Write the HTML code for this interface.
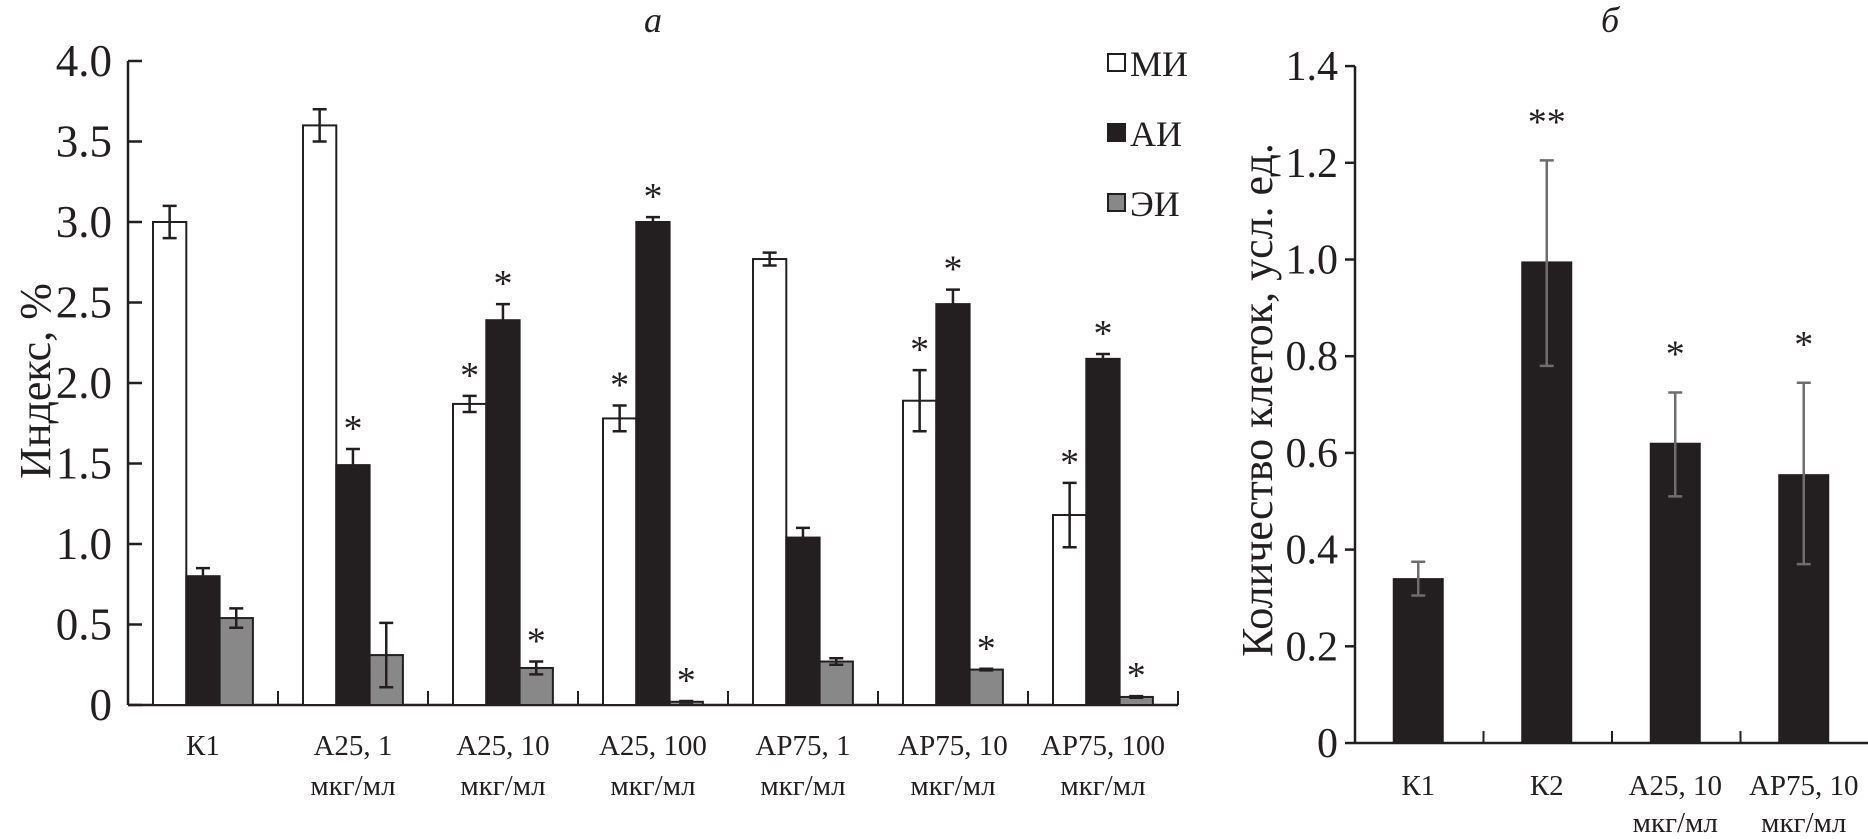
<!DOCTYPE html>
<html><head><meta charset="utf-8">
<style>
html,body{margin:0;padding:0;background:#fff;}
svg{display:block;font-family:"Liberation Serif","DejaVu Serif",serif;}
</style></head>
<body>
<svg id="chart" width="1868" height="839" viewBox="0 0 1868 839" xmlns="http://www.w3.org/2000/svg"></svg>
<script>
// Panel a data
const catsA = [["К1",""],["А25, 1","мкг/мл"],["А25, 10","мкг/мл"],["А25, 100","мкг/мл"],["АР75, 1","мкг/мл"],["АР75, 10","мкг/мл"],["АР75, 100","мкг/мл"]];
const miVals = [3.0, 3.6, 1.87, 1.78, 2.77, 1.89, 1.18];
const miErr = [0.1, 0.1, 0.05, 0.08, 0.04, 0.19, 0.2];
const miStar = [0,0,1,1,0,1,1];
const aiVals = [0.8, 1.49, 2.39, 3.0, 1.04, 2.49, 2.15];
const aiErr = [0.05, 0.1, 0.1, 0.03, 0.06, 0.09, 0.03];
const aiStar = [0,1,1,1,0,1,1];
const eiVals = [0.54, 0.31, 0.23, 0.02, 0.27, 0.22, 0.05];
const eiErr = [0.06, 0.2, 0.04, 0.005, 0.02, 0.005, 0.005];
const eiStar = [0,0,1,1,0,1,1];
const ticksA = ["0","0.5","1.0","1.5","2.0","2.5","3.0","3.5","4.0"];
// Panel b data
const catsB = [["К1",""],["К2",""],["А25, 10","мкг/мл"],["АР75, 10","мкг/мл"]];
const cellVals = [0.34, 0.995, 0.62, 0.555];
const cellLo = [0.305, 0.78, 0.51, 0.37];
const cellHi = [0.375, 1.205, 0.725, 0.745];
const cellStar = ["", "**", "*", "*"];
const ticksB = ["0","0.2","0.4","0.6","0.8","1.0","1.2","1.4"];

const svg = document.getElementById('chart');
const NS = "http://www.w3.org/2000/svg";
function mk(tag, attrs, parent){const e=document.createElementNS(NS,tag);for(const k in attrs)e.setAttribute(k,attrs[k]);(parent||svg).appendChild(e);return e;}
function txt(s, attrs, parent){const e=mk('text',attrs,parent);e.textContent=s;return e;}
const INK="#231f20";

// ---------- Panel a ----------
const gA = mk('g',{});


const ax0=128, ay0=705, aUnit=161, groupW=150, barW=33.3, gStart=153;
const yA = v => ay0 - v*aUnit;
const xA = (i,s) => gStart + i*groupW + s*barW;
let t = txt('а',{x:653,y:32,'font-size':36,'font-style':'italic','text-anchor':'middle',fill:INK},gA);
 
let l = mk('line',{x1:ax0,y1:yA(4),x2:ax0,y2:ay0,stroke:INK,'stroke-width':2.5},gA);
 
l = mk('line',{x1:ax0,y1:ay0,x2:ax0+catsA.length*groupW,y2:ay0,stroke:INK,'stroke-width':2.5},gA);
 
ticksA.forEach((s,i)=>{
  const y=yA(parseFloat(s));
  const tk=mk('line',{x1:ax0,y1:y,x2:ax0+14,y2:y,stroke:INK,'stroke-width':2.5},gA);
   
  const tl=txt(s,{x:112,y:y+15,'font-size':45,'text-anchor':'end',fill:INK},gA);
   
});
for(let k=1;k<=catsA.length;k++){
  const tk=mk('line',{x1:ax0+k*groupW,y1:ay0,x2:ax0+k*groupW,y2:ay0-14,stroke:INK,'stroke-width':2},gA);
   
}
t = txt('Индекс, %',{x:0,y:0,'font-size':44,'text-anchor':'middle',fill:INK,transform:'translate(50,381) rotate(-90)'},gA);
 
const series=[[miVals,miErr,miStar,'#ffffff','mi'],[aiVals,aiErr,aiStar,INK,'ai'],[eiVals,eiErr,eiStar,'#888889','ei']];
catsA.forEach((c,i)=>{
  series.forEach((sr,s)=>{
    const v=sr[0][i], e=sr[1][i];
    const r=mk('rect',{x:xA(i,s),y:yA(v),width:barW,height:ay0-yA(v),fill:sr[3],stroke:INK,'stroke-width':2},gA);
     
    const cx=xA(i,s)+barW/2;
    const eb=mk('path',{d:`M${cx-7},${yA(v+e)}H${cx+7}M${cx},${yA(v+e)}V${yA(v-e)}M${cx-7},${yA(v-e)}H${cx+7}`,stroke:INK,'stroke-width':2.5,fill:'none'},gA);
     
    if(sr[2][i]){
      const st=txt('*',{x:cx,y:yA(v+e)-8,'font-size':38,'text-anchor':'middle',fill:INK},gA);
       
    }
  });
  const cx=gStart+i*groupW+1.5*barW;
  const l1=txt(c[0],{x:cx,y:755,'font-size':29,'text-anchor':'middle',fill:INK},gA);
   
  if(c[1]){const l2=txt(c[1],{x:cx,y:795,'font-size':29,'text-anchor':'middle',fill:INK},gA);
   }
});
const legNames=['МИ','АИ','ЭИ'], legFill=['#ffffff',INK,'#888889'], legY=[63,133,203];
legNames.forEach((n,i)=>{
  const g=mk('g',{},gA);
   
  mk('rect',{x:1108,y:legY[i]-9,width:17,height:17,fill:legFill[i],stroke:INK,'stroke-width':2},g);
  txt(n,{x:1130,y:legY[i]+13,'font-size':36,fill:INK},g);
});

// ---------- Panel b ----------
const gB = mk('g',{});


const bx0=1355, by0=743, bUnit=483.5, bGroup=128.5, bBarW=50;
const yB = v => by0 - v*bUnit;
t = txt('б',{x:1610,y:32,'font-size':36,'font-style':'italic','text-anchor':'middle',fill:INK},gB);
 
l = mk('line',{x1:bx0,y1:yB(1.4),x2:bx0,y2:by0,stroke:INK,'stroke-width':2.5},gB);
 
l = mk('line',{x1:bx0,y1:by0,x2:1868,y2:by0,stroke:INK,'stroke-width':2.5},gB);
 
ticksB.forEach(s=>{
  const y=yB(parseFloat(s));
  const tk=mk('line',{x1:bx0-10,y1:y,x2:bx0,y2:y,stroke:INK,'stroke-width':2.5},gB);
   
  const tl=txt(s,{x:1338,y:y+14,'font-size':42,'text-anchor':'end',fill:INK},gB);
   
});
for(let k=1;k<catsB.length;k++){
  const tk=mk('line',{x1:bx0+k*bGroup,y1:by0,x2:bx0+k*bGroup,y2:by0-12,stroke:INK,'stroke-width':2},gB);
   
}
t = txt('Количество клеток, усл. ед.',{x:0,y:0,'font-size':44,'text-anchor':'middle',fill:INK,transform:'translate(1272,400) rotate(-90)'},gB);
 
catsB.forEach((c,i)=>{
  const cx=bx0+i*bGroup+bGroup/2-1;
  const v=cellVals[i];
  const r=mk('rect',{x:cx-bBarW/2,y:yB(v),width:bBarW,height:by0-yB(v),fill:INK,stroke:INK,'stroke-width':1},gB);
   
  const eb=mk('path',{d:`M${cx-7},${yB(cellHi[i])}H${cx+7}M${cx},${yB(cellHi[i])}V${yB(cellLo[i])}M${cx-7},${yB(cellLo[i])}H${cx+7}`,stroke:'#6d6d6d','stroke-width':2.5,fill:'none'},gB);
   
  if(cellStar[i]){
    const st=txt(cellStar[i],{x:cx,y:yB(cellHi[i])-26,'font-size':38,'text-anchor':'middle',fill:INK},gB);
     
  }
  const l1=txt(c[0],{x:cx,y:795,'font-size':29,'text-anchor':'middle',fill:INK},gB);
   
  if(c[1]){const l2=txt(c[1],{x:cx,y:832,'font-size':29,'text-anchor':'middle',fill:INK},gB);
   }
});
</script>
</body></html>
